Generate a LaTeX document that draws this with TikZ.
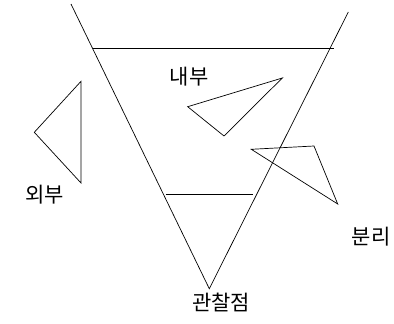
\documentclass[tikz,border=0pt]{standalone}
\usepackage{fontspec}
\newfontfamily\kr{Noto Sans CJK KR}[FakeStretch=1.0]
\begin{document}
\begin{tikzpicture}[x=1pt,y=-1pt,line width=0.7pt,
  lbl/.style={font=\kr\fontsize{21}{24}\selectfont,inner sep=0pt}]
\useasboundingbox (0,0) rectangle (394,324);
% frustum
\coordinate (lt) at (71,4);
\coordinate (rt) at (348.3,12);
\coordinate (apex) at (209.3,288.7);
\coordinate (f1) at (92.7,48.7);
\coordinate (f2) at (334.3,48.7);
\coordinate (n1) at (165.7,194.3);
\coordinate (n2) at (253.3,194.3);
\draw (lt) -- (apex) -- (rt);
\draw (f1) -- (f2);
\draw (n1) -- (n2);
% inner triangle
\coordinate (a1) at (187.7,106.7);
\coordinate (a2) at (282.3,78);
\coordinate (a3) at (224,136);
\draw (a1) -- (a2) -- (a3) -- cycle;
% outer triangle
\coordinate (b1) at (81,81.3);
\coordinate (b2) at (34.3,132.3);
\coordinate (b3) at (81,183);
\draw (b1) -- (b2) -- (b3) -- cycle;
% separated triangle
\coordinate (c1) at (251.3,149.3);
\coordinate (c2) at (314,146);
\coordinate (c3) at (337.7,204);
\draw (c1) -- (c2) -- (c3) -- cycle;
% labels
\node[lbl] (inside) at (189,77) {내부};
\node[lbl] (outside) at (44.7,194.3) {외부};
\node[lbl] (split) at (371,236.7) {분리};
\node[lbl] (view) at (221,302.7) {관찰점};
\end{tikzpicture}
\end{document}
